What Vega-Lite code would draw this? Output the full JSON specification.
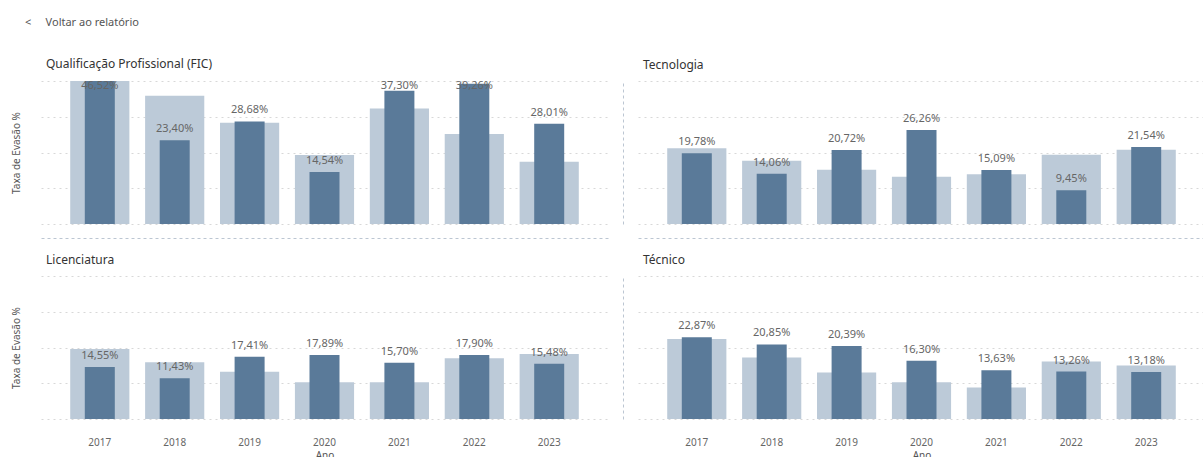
{
  "$schema": "https://vega.github.io/schema/vega-lite/v6.json",
  "padding": {"left": 11, "top": 17, "right": 0, "bottom": 0},
  "title": {"text": "<\u00a0\u00a0\u00a0\u00a0\u00a0Voltar ao relatório", "anchor": "start", "frame": "bounds", "fontSize": 11, "font": "Noto Sans", "fontWeight": "normal", "color": "#555555", "dx": 14, "offset": 30},
  "config": {
    "locale": {"number": {"decimal": ",", "thousands": ".", "grouping": [3], "currency": ["R$", ""]}},
    "font": "Noto Sans",
    "view": {"stroke": null},
    "title": {"anchor": "start", "frame": "group", "fontSize": 12, "fontWeight": "normal", "color": "#333333", "font": "Noto Sans"},
    "axis": {"labelColor": "#666666", "titleColor": "#555555", "labelFont": "Noto Sans", "titleFont": "Noto Sans", "titleFontWeight": "normal"},
    "axisY": {"tickCount": 4, "labels": false, "ticks": false, "domain": false, "gridDash": [2, 4], "gridColor": "#d8d8d8", "titleFontSize": 10, "titlePadding": 20},
    "axisX": {"ticks": false, "domain": false, "labelPadding": 18, "labelFontSize": 10, "labelAngle": 0, "titleFontSize": 10, "titlePadding": 3},
    "bar": {"color": "#5a7a99"},
    "text": {"fontSize": 11, "color": "#666666", "font": "Noto Sans"}
  },
  "datasets": {"evasao": [
    {"tipo": "Qualificação Profissional (FIC)", "ano": "2017", "taxa": 0.4652, "referencia": 0.40},
    {"tipo": "Qualificação Profissional (FIC)", "ano": "2018", "taxa": 0.2340, "referencia": 0.359},
    {"tipo": "Qualificação Profissional (FIC)", "ano": "2019", "taxa": 0.2868, "referencia": 0.283},
    {"tipo": "Qualificação Profissional (FIC)", "ano": "2020", "taxa": 0.1454, "referencia": 0.193},
    {"tipo": "Qualificação Profissional (FIC)", "ano": "2021", "taxa": 0.3730, "referencia": 0.323},
    {"tipo": "Qualificação Profissional (FIC)", "ano": "2022", "taxa": 0.3926, "referencia": 0.252},
    {"tipo": "Qualificação Profissional (FIC)", "ano": "2023", "taxa": 0.2801, "referencia": 0.174},
    {"tipo": "Tecnologia", "ano": "2017", "taxa": 0.1978, "referencia": 0.212},
    {"tipo": "Tecnologia", "ano": "2018", "taxa": 0.1406, "referencia": 0.177},
    {"tipo": "Tecnologia", "ano": "2019", "taxa": 0.2072, "referencia": 0.152},
    {"tipo": "Tecnologia", "ano": "2020", "taxa": 0.2626, "referencia": 0.132},
    {"tipo": "Tecnologia", "ano": "2021", "taxa": 0.1509, "referencia": 0.139},
    {"tipo": "Tecnologia", "ano": "2022", "taxa": 0.0945, "referencia": 0.194},
    {"tipo": "Tecnologia", "ano": "2023", "taxa": 0.2154, "referencia": 0.208},
    {"tipo": "Licenciatura", "ano": "2017", "taxa": 0.1455, "referencia": 0.196},
    {"tipo": "Licenciatura", "ano": "2018", "taxa": 0.1143, "referencia": 0.159},
    {"tipo": "Licenciatura", "ano": "2019", "taxa": 0.1741, "referencia": 0.132},
    {"tipo": "Licenciatura", "ano": "2020", "taxa": 0.1789, "referencia": 0.103},
    {"tipo": "Licenciatura", "ano": "2021", "taxa": 0.1570, "referencia": 0.103},
    {"tipo": "Licenciatura", "ano": "2022", "taxa": 0.1790, "referencia": 0.170},
    {"tipo": "Licenciatura", "ano": "2023", "taxa": 0.1548, "referencia": 0.182},
    {"tipo": "Técnico", "ano": "2017", "taxa": 0.2287, "referencia": 0.224},
    {"tipo": "Técnico", "ano": "2018", "taxa": 0.2085, "referencia": 0.172},
    {"tipo": "Técnico", "ano": "2019", "taxa": 0.2039, "referencia": 0.130},
    {"tipo": "Técnico", "ano": "2020", "taxa": 0.1630, "referencia": 0.103},
    {"tipo": "Técnico", "ano": "2021", "taxa": 0.1363, "referencia": 0.088},
    {"tipo": "Técnico", "ano": "2022", "taxa": 0.1326, "referencia": 0.161},
    {"tipo": "Técnico", "ano": "2023", "taxa": 0.1318, "referencia": 0.150}
  ]},
  "data": {"name": "evasao"},
  "bounds": "flush",
  "columns": 2,
  "spacing": {"row": 52, "column": 30},
  "concat": [
    {
      "title": {"text": "Qualificação Profissional (FIC)", "offset": 9, "dx": 5},
      "transform": [{"filter": "datum.tipo === 'Qualificação Profissional (FIC)'"}],
      "width": 567, "height": 143,
      "encoding": {"x": {"field": "ano", "type": "ordinal", "scale": {"paddingInner": 0.21, "paddingOuter": 0.39},
        "axis": {"labels": false, "title": null, "domain": true, "domainDash": [3, 3], "domainColor": "#bcc6d2", "offset": 14}}},
      "layer": [
        {"mark": {"type": "bar", "color": "#bccad8"},
         "encoding": {"y": {"field": "referencia", "type": "quantitative", "title": "Taxa de Evasão %", "scale": {"domain": [0, 0.4], "clamp": true, "nice": false}}}},
        {"mark": {"type": "bar", "width": 30}, "encoding": {"y": {"field": "taxa", "type": "quantitative"}}},
        {"transform": [{"filter": "datum.taxa < 0.36"}], "mark": {"type": "text", "dy": -11},
         "encoding": {"y": {"field": "taxa", "type": "quantitative"}, "text": {"field": "taxa", "type": "quantitative", "format": ".2%"}}},
        {"transform": [{"filter": "datum.taxa >= 0.36"}], "mark": {"type": "text", "dy": 5},
         "encoding": {"y": {"datum": 0.4}, "text": {"field": "taxa", "type": "quantitative", "format": ".2%"}}}
      ]
    },
    {
      "title": {"text": "Tecnologia", "offset": 9, "dx": 5},
      "transform": [{"filter": "datum.tipo === 'Tecnologia'"}],
      "width": 567, "height": 143,
      "encoding": {"x": {"field": "ano", "type": "ordinal", "scale": {"paddingInner": 0.21, "paddingOuter": 0.39},
        "axis": {"labels": false, "title": null, "domain": true, "domainDash": [3, 3], "domainColor": "#bcc6d2", "offset": 14}}},
      "layer": [
        {"mark": {"type": "bar", "color": "#bccad8"},
         "encoding": {"y": {"field": "referencia", "type": "quantitative", "title": null, "scale": {"domain": [0, 0.4], "clamp": true, "nice": false},
           "axis": {"domain": true, "domainDash": [3, 3], "domainColor": "#bcc6d2", "offset": 15}}}},
        {"mark": {"type": "bar", "width": 30}, "encoding": {"y": {"field": "taxa", "type": "quantitative"}}},
        {"mark": {"type": "text", "dy": -11},
         "encoding": {"y": {"field": "taxa", "type": "quantitative"}, "text": {"field": "taxa", "type": "quantitative", "format": ".2%"}}}
      ]
    },
    {
      "title": {"text": "Licenciatura", "offset": 9, "dx": 5},
      "transform": [{"filter": "datum.tipo === 'Licenciatura'"}],
      "width": 567, "height": 143,
      "encoding": {"x": {"field": "ano", "type": "ordinal", "title": "Ano", "scale": {"paddingInner": 0.21, "paddingOuter": 0.39}}},
      "layer": [
        {"mark": {"type": "bar", "color": "#bccad8"},
         "encoding": {"y": {"field": "referencia", "type": "quantitative", "title": "Taxa de Evasão %", "scale": {"domain": [0, 0.4], "clamp": true, "nice": false}}}},
        {"mark": {"type": "bar", "width": 30}, "encoding": {"y": {"field": "taxa", "type": "quantitative"}}},
        {"mark": {"type": "text", "dy": -11},
         "encoding": {"y": {"field": "taxa", "type": "quantitative"}, "text": {"field": "taxa", "type": "quantitative", "format": ".2%"}}}
      ]
    },
    {
      "title": {"text": "Técnico", "offset": 9, "dx": 5},
      "transform": [{"filter": "datum.tipo === 'Técnico'"}],
      "width": 567, "height": 143,
      "encoding": {"x": {"field": "ano", "type": "ordinal", "title": "Ano", "scale": {"paddingInner": 0.21, "paddingOuter": 0.39}}},
      "layer": [
        {"mark": {"type": "bar", "color": "#bccad8"},
         "encoding": {"y": {"field": "referencia", "type": "quantitative", "title": null, "scale": {"domain": [0, 0.4], "clamp": true, "nice": false},
           "axis": {"domain": true, "domainDash": [3, 3], "domainColor": "#bcc6d2", "offset": 15}}}},
        {"mark": {"type": "bar", "width": 30}, "encoding": {"y": {"field": "taxa", "type": "quantitative"}}},
        {"mark": {"type": "text", "dy": -11},
         "encoding": {"y": {"field": "taxa", "type": "quantitative"}, "text": {"field": "taxa", "type": "quantitative", "format": ".2%"}}}
      ]
    }
  ]
}
